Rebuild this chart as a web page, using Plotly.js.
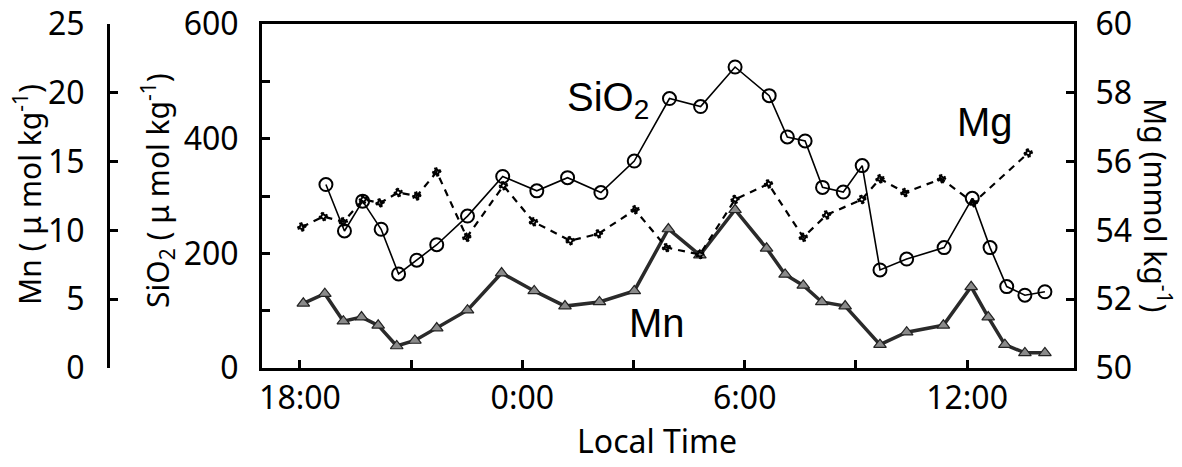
<!DOCTYPE html>
<html>
<head>
<meta charset="utf-8">
<script src="https://cdn.plot.ly/plotly-3.0.1.min.js"></script>
<style>html,body{margin:0;padding:0;background:#fff;}#chart{width:1182px;height:467px;}</style>
</head>
<body>
<div id="chart"></div>
<script>
// Hours since midnight of the first day (24 = 0:00, 30 = 6:00, 36 = 12:00)
const timeSiO2 = [18.70,19.20,19.69,20.19,20.66,21.15,21.69,22.52,23.47,24.39,25.22,26.12,27.02,27.97,28.81,29.74,30.66,31.15,31.63,32.10,32.66,33.17,33.65,34.37,35.38,36.14,36.62,37.07,37.56,38.10];
const sio2 = [320,239,291,242,164,188,215,265,334,309,332,306,361,470,456,525,475,403,396,315,307,353,171,190,210,296,210,142,127,133];

const timeMn = [18.09,18.67,19.17,19.66,20.11,20.61,21.10,21.69,22.52,23.44,24.32,25.15,26.08,27.02,27.94,28.79,29.74,30.59,31.09,31.58,32.08,32.71,33.65,34.37,35.36,36.11,36.57,37.02,37.56,38.10];
const mn = [4.7,5.4,3.4,3.7,3.1,1.6,2.0,2.9,4.2,6.9,5.6,4.5,4.8,5.6,10.1,8.2,11.5,8.7,6.8,6.0,4.8,4.5,1.7,2.6,3.1,5.9,3.7,1.7,1.1,1.1];

const timeMg = [18.05,18.63,19.17,19.71,20.16,20.65,21.15,21.69,22.50,23.49,24.30,25.29,26.05,27.04,27.89,28.79,29.74,30.64,31.58,32.21,33.16,33.65,34.32,35.31,36.17,37.65];
const mg = [54.1,54.4,54.25,54.9,54.8,55.1,55.0,55.7,53.8,55.3,54.25,53.7,53.9,54.6,53.5,53.3,54.9,55.35,53.8,54.45,54.9,55.5,55.1,55.5,54.8,56.25];

const xTickVals = [18,21,24,27,30,33,36];
const xTickText = ['18:00','','0:00','','6:00','','12:00'];
const sio2TickVals = [0,100,200,300,400,500,600];
const sio2TickText = ['0','','200','','400','','600'];
const mnTickVals = [0,5,10,15,20,25];
const mgTickVals = [50,52,54,56,58,60];

const W = 1182, H = 467;
const tickFont = {family: 'Noto Sans, sans-serif', size: 32, color: '#000'};
const titleFont = {family: 'Noto Sans, sans-serif', size: 30, color: '#000'};
const labelFont = {family: 'Liberation Sans, Arial, sans-serif', size: 40, color: '#000'};

const traces = [
  {x: timeSiO2, y: sio2, xaxis: 'x', yaxis: 'y', mode: 'lines+markers', name: 'SiO2',
   line: {color: '#000', width: 1.6},
   marker: {symbol: 'circle-open', size: 13, color: '#000', line: {width: 2, color: '#000'}}},
  {x: timeMn, y: mn, xaxis: 'x', yaxis: 'y2', mode: 'lines+markers', name: 'Mn',
   line: {color: '#2a2a2a', width: 3.5},
   marker: {symbol: 'triangle-up', size: 11, color: '#8a8a8a', line: {width: 1.2, color: '#222'}}},
  {x: timeMg, y: mg, xaxis: 'x', yaxis: 'y3', mode: 'lines+markers', name: 'Mg',
   line: {color: '#000', width: 2.2, dash: '7px,6px'},
   marker: {symbol: 'hash-open', size: 8, angle: 30, color: '#000', line: {width: 2, color: '#000'}}}
];

function px2x(p){ return p / W; }
function py2y(p){ return (368 - p) / 344; }

const layout = {
  width: W, height: H,
  margin: {l: 0, r: 0, t: 24, b: 99},
  paper_bgcolor: '#fff', plot_bgcolor: '#fff',
  showlegend: false,
  xaxis: {
    domain: [262/W, 1074/W], range: [16.975, 38.885],
    tickmode: 'array', tickvals: xTickVals, ticktext: xTickText,
    ticks: 'inside', ticklen: 8, tickwidth: 3, tickcolor: '#000',
    showline: true, linewidth: 3, linecolor: '#000', mirror: true,
    showgrid: false, zeroline: false, tickfont: tickFont, ticklabelstandoff: 0
  },
  yaxis: {
    range: [0, 600], tickmode: 'array', tickvals: sio2TickVals, ticktext: sio2TickText,
    ticks: 'inside', ticklen: 8, tickwidth: 3, tickcolor: '#000',
    showline: true, linewidth: 3, linecolor: '#000', mirror: true,
    showgrid: false, zeroline: false, tickfont: tickFont, ticklabelstandoff: 14
  },
  yaxis2: {
    range: [0, 25], overlaying: 'y', anchor: 'free', position: 108/W, side: 'left',
    tickmode: 'array', tickvals: mnTickVals,
    ticks: 'inside', ticklen: 8, tickwidth: 3, tickcolor: '#000',
    showline: true, linewidth: 3, linecolor: '#000',
    showgrid: false, zeroline: false, tickfont: tickFont, ticklabelstandoff: 16
  },
  yaxis3: {
    range: [50, 60], overlaying: 'y', anchor: 'x', side: 'right',
    tickmode: 'array', tickvals: mgTickVals,
    ticks: 'inside', ticklen: 8, tickwidth: 3, tickcolor: '#000',
    showline: true, linewidth: 3, linecolor: '#000',
    showgrid: false, zeroline: false, tickfont: tickFont, ticklabelstandoff: 12
  },
  annotations: [
    {xref: 'paper', yref: 'paper', x: px2x(28), y: py2y(195), text: 'Mn ( μ mol kg<sup>-1</sup>)',
     textangle: -90, showarrow: false, font: titleFont, xanchor: 'center', yanchor: 'middle'},
    {xref: 'paper', yref: 'paper', x: px2x(157), y: py2y(191), text: 'SiO<sub>2</sub> ( μ mol kg<sup>-1</sup>)',
     textangle: -90, showarrow: false, font: titleFont, xanchor: 'center', yanchor: 'middle'},
    {xref: 'paper', yref: 'paper', x: px2x(1157), y: py2y(205), text: 'Mg (mmol kg<sup>-1</sup>)',
     textangle: 90, showarrow: false, font: titleFont, xanchor: 'center', yanchor: 'middle'},
    {xref: 'paper', yref: 'paper', x: px2x(657), y: py2y(440), text: 'Local Time',
     showarrow: false, font: {family: 'Noto Sans, sans-serif', size: 32, color: '#000'}, xanchor: 'center', yanchor: 'middle'},
    {xref: 'paper', yref: 'paper', x: px2x(608), y: py2y(100), text: 'SiO<sub>2</sub>',
     showarrow: false, font: labelFont, xanchor: 'center', yanchor: 'middle'},
    {xref: 'paper', yref: 'paper', x: px2x(985), y: py2y(122), text: 'Mg',
     showarrow: false, font: labelFont, xanchor: 'center', yanchor: 'middle'},
    {xref: 'paper', yref: 'paper', x: px2x(657), y: py2y(323), text: 'Mn',
     showarrow: false, font: labelFont, xanchor: 'center', yanchor: 'middle'}
  ]
};

Plotly.newPlot('chart', traces, layout, {staticPlot: true, displayModeBar: false});
</script>
</body>
</html>
